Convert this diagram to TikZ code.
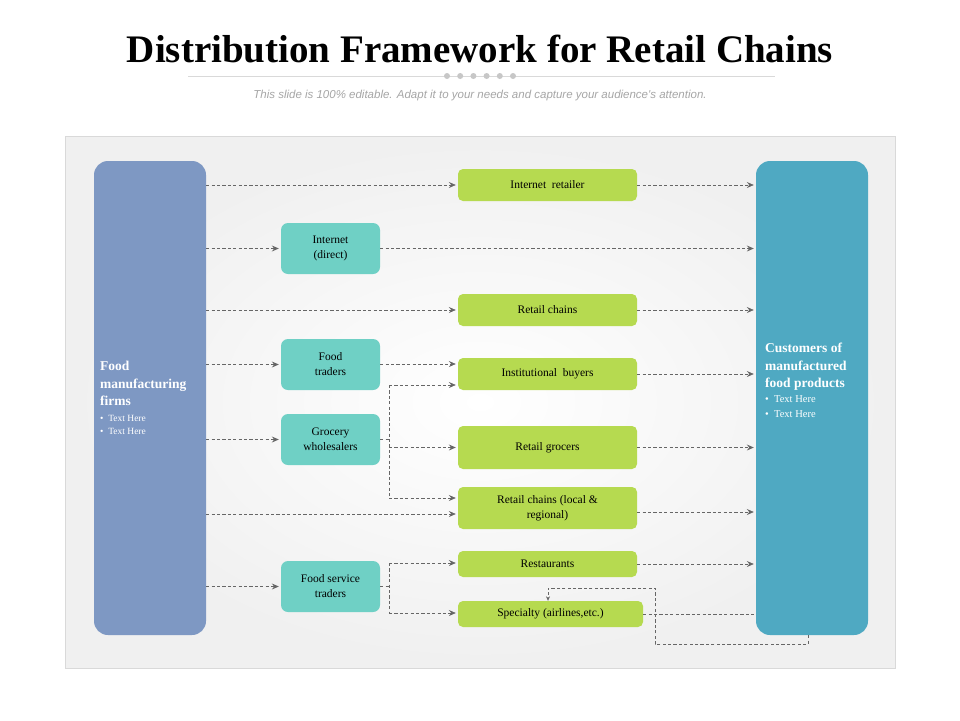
\documentclass[tikz,border=0pt]{standalone}
\usepackage{fontspec}
\setmainfont{Liberation Serif}
\newfontfamily\subfont{Liberation Sans}
\usetikzlibrary{arrows.meta,calc}
\definecolor{lbar}{HTML}{7E98C3}
\definecolor{rbar}{HTML}{4FA9C2}
\definecolor{tealbox}{HTML}{6FD0C5}
\definecolor{greenbox}{HTML}{B6DA50}
\definecolor{linegray}{HTML}{666666}
\definecolor{subgray}{HTML}{A6A6A6}
\tikzset{
  bar/.style={rounded corners=14pt, inner sep=0pt, minimum width=112pt, minimum height=474pt},
  tbox/.style={fill=tealbox, rounded corners=7pt, minimum width=99pt, minimum height=51pt, align=center, font=\fontsize{11.5}{15}\selectfont, text=black, inner sep=2pt},
  gbox/.style={fill=greenbox, rounded corners=5pt, minimum width=179pt, align=center, font=\fontsize{11.5}{15}\selectfont, text=black, inner sep=2pt},
  dl/.style={draw=linegray, line width=0.75pt, dash pattern=on 3.2pt off 2.2pt},
  arr/.style={dl, -{Stealth[length=7pt,width=6pt,inset=2.5pt]}, shorten >=2pt},
  head/.style={anchor=north west, align=left, text=white, inner sep=0pt, font=\fontsize{13.5}{17.5}\selectfont\bfseries},
  bul/.style={anchor=north west, align=left, text=white, inner sep=0pt},
}
\begin{document}
\begin{tikzpicture}[x=1pt,y=-1pt]
\useasboundingbox (0,0) rectangle (960,720);
\fill[white] (0,0) rectangle (960,720);
% title
\node (title) at (480,49) {\fontsize{39}{44}\selectfont\bfseries Distribution Framework for Retail Chains};
\draw[draw=black!15, line width=0.8pt] (188,76) -- (775,76);
\foreach \i in {0,...,5} { \fill[black!22] (447+\i*13.2,76) circle (3pt); }
\node[text=subgray, font=\subfont\itshape\fontsize{11.5}{13}\selectfont] (sub) at (480,96) {This slide is 100\% editable. Adapt it to your needs and capture your audience's attention.};
% panel
\shade[inner color=white, outer color=black!6] (65,136) rectangle (895,668);
\draw[black!15, line width=0.6pt] (65,136) rectangle (895,668);
% bars
\node[bar, fill=lbar] (lb) at (150,398) {};
\node[bar, fill=rbar] (rb) at (812,398) {};
\node[head] (lbt) at (100,361) {Food\\manufacturing\\firms};
\node[bul, font=\fontsize{9.5}{13}\selectfont] (lbb) at (100,415) {\textbullet\ \ Text Here\\\textbullet\ \ Text Here};
\node[head] (rbt) at (765,343) {Customers of\\manufactured\\food products};
\node[bul, font=\fontsize{10.5}{15}\selectfont] (rbb) at (765,395) {\textbullet\ \ Text Here\\\textbullet\ \ Text Here};
% teal boxes
\node[tbox] (id) at (330.5,248.5) {Internet\\(direct)};
\node[tbox] (ft) at (330.5,364.5) {Food\\traders};
\node[tbox] (gw) at (330.5,439.5) {Grocery\\wholesalers};
\node[tbox] (fs) at (330.5,586.5) {Food service\\traders};
% green boxes
\node[gbox, minimum height=32pt] (ir) at (547.5,185) {Internet\ \ retailer};
\node[gbox, minimum height=32pt] (rc) at (547.5,310) {Retail chains};
\node[gbox, minimum height=32pt] (ib) at (547.5,374) {Institutional\ \ buyers};
\node[gbox, minimum height=43pt] (rg) at (547.5,447.5) {Retail grocers};
\node[gbox, minimum height=42pt] (cl) at (547.5,508) {Retail chains (local \&\\regional)};
\node[gbox, minimum height=26pt] (rs) at (547.5,564) {Restaurants};
\node[gbox, minimum height=26pt, minimum width=185pt] (sp) at (550.5,614) {Specialty (airlines,etc.)};
% left bar to first column
\draw[arr] (lb.east |- ir.west) -- (ir.west);
\draw[arr] (lb.east |- id.west) -- (id.west);
\draw[arr] (lb.east |- rc.west) -- (rc.west);
\draw[arr] (lb.east |- ft.west) -- (ft.west);
\draw[arr] (lb.east |- gw.west) -- (gw.west);
\coordinate (clin) at ($(cl.west)+(0,6)$);
\draw[arr] (lb.east |- clin) -- (clin);
\draw[arr] (lb.east |- fs.west) -- (fs.west);
% to right bar
\draw[arr] (ir.east) -- (rb.west |- ir.east);
\draw[arr] (id.east) -- (rb.west |- id.east);
\draw[arr] (rc.east) -- (rb.west |- rc.east);
\draw[arr] (ib.east) -- (rb.west |- ib.east);
\draw[arr] (rg.east) -- (rb.west |- rg.east);
\coordinate (clout) at ($(cl.east)+(0,4)$);
\draw[arr] (clout) -- (rb.west |- clout);
\draw[arr] (rs.east) -- (rb.west |- rs.east);
\draw[dl] (sp.east) -- (rb.west |- sp.east);
% food traders
\coordinate (ibin1) at ($(ib.west)+(0,-10)$);
\draw[arr] (ft.east |- ibin1) -- (ibin1);
% grocery wholesalers branches
\coordinate (j1) at (389,439.5);
\coordinate (ibin2) at ($(ib.west)+(0,11)$);
\coordinate (clin2) at ($(cl.west)+(0,-10)$);
\draw[dl] (gw.east) -- (j1);
\draw[arr] (j1 |- ibin2) -- (ibin2);
\draw[dl] (j1 |- ibin2) -- (j1 |- clin2);
\draw[arr] (j1 |- rg.west) -- (rg.west);
\draw[arr] (j1 |- clin2) -- (clin2);
% food service branches
\coordinate (j2) at (389,586.5);
\coordinate (rsin) at ($(rs.west)+(0,-1)$);
\coordinate (spin) at ($(sp.west)+(0,-1)$);
\draw[dl] (fs.east) -- (j2);
\draw[arr] (j2 |- rsin) -- (rsin);
\draw[dl] (j2 |- rsin) -- (j2 |- spin);
\draw[arr] (j2 |- spin) -- (spin);
% loop from customers back to specialty
\coordinate (lp0) at ($(rb.south)+(-4,0)$);
\coordinate (lp1) at (655,588);
\coordinate (lpin) at ($(sp.north)+(-2.5,0)$);
\draw[dl, -{Stealth[length=4.5pt,width=4pt]}, line width=0.6pt] (lp0) -- ++(0,9) -| (lp1) -| (lpin);
\end{tikzpicture}
\end{document}
